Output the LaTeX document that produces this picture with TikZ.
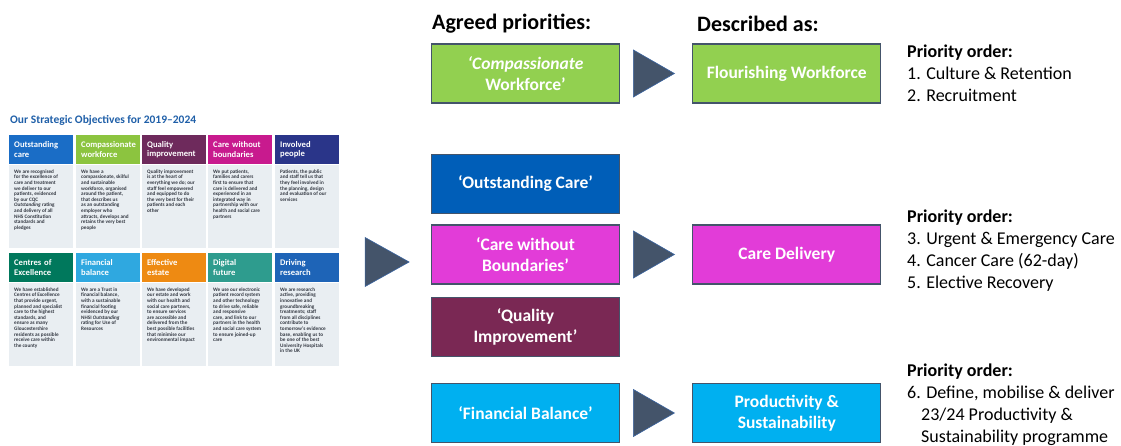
\documentclass[tikz,border=0pt]{standalone}
\usepackage{fontspec}
\setmainfont{Carlito}
\usetikzlibrary{positioning,shapes.geometric}

\definecolor{slate}{HTML}{44546A}
\definecolor{tipedge}{HTML}{3A64A0}
\definecolor{pgreen}{HTML}{92D050}
\definecolor{pblue}{HTML}{005EB8}
\definecolor{pmagenta}{HTML}{E23CD8}
\definecolor{pmaroon}{HTML}{7A2854}
\definecolor{pcyan}{HTML}{00B0F0}
% strategy sheet colours
\definecolor{objtitle}{HTML}{1F5FA8}
\definecolor{objpanel}{HTML}{E9EEF2}
\definecolor{objink}{HTML}{333842}
\definecolor{outcare}{HTML}{1A6DC6}
\definecolor{compwork}{HTML}{8CC43F}
\definecolor{qualimp}{HTML}{6E2A5C}
\definecolor{carebound}{HTML}{C81A8E}
\definecolor{involved}{HTML}{2A3589}
\definecolor{centres}{HTML}{00785C}
\definecolor{finbal}{HTML}{2FA8E0}
\definecolor{estate}{HTML}{EE8A12}
\definecolor{digital}{HTML}{2E9C8E}
\definecolor{research}{HTML}{1E64B7}

\def\fsz#1#2{\fontsize{#1}{#2}\selectfont}
% one objective: name, x, y, colour, header, body
\newcommand{\objective}[6]{%
  \node[objhead, fill=#4] (#1) at (#2,#3) {#5};
  \node[objbody, below=0pt of #1] (#1p) {};
  \node[objtext] (#1t) at ([shift={(5,5)}]#1p.north west) {#6};
}

\begin{document}
\begin{tikzpicture}[x=1pt, y=-1pt,
    box/.style={draw=slate, line width=1.2pt, minimum width=188pt, minimum height=59pt,
      inner sep=0pt, align=center, text=white, font=\bfseries\fsz{17.5}{21}},
    tip/.style={isosceles triangle, isosceles triangle stretches, shape border rotate=0,
      fill=slate, draw=tipedge, line width=0.6pt, minimum width=47pt, minimum height=41pt, inner sep=0pt},
    heading/.style={font=\bfseries\fsz{22}{26}, anchor=base west, inner sep=0pt},
    prio/.style={font=\fsz{18}{22}, align=left, anchor=north west, inner sep=0pt},
    objhead/.style={minimum width=64pt, minimum height=29pt, anchor=north west, inner sep=0pt,
      text width=54pt, align=left, text=white, font=\bfseries\fsz{8.6}{9.5}},
    objbody/.style={fill=objpanel, minimum width=64pt, minimum height=83pt, inner sep=0pt},
    objtext/.style={anchor=north west, inner sep=0pt, align=left, text=objink, font=\bfseries\fsz{5.2}{5.6}}]
  \useasboundingbox (0,0) rectangle (1121,446);

  % --- strategic objectives sheet
  \node[font=\bfseries\fsz{11.5}{13}, text=objtitle, anchor=base west, inner sep=0pt] (objt) at (10,124)
    {Our Strategic Objectives for 2019--2024};
  \objective{oa}{9}{135}{outcare}{Outstanding\\care}
    {We are recognised\\for the excellence of\\care and treatment\\we deliver to our\\patients, evidenced\\by our CQC\\\textit{Outstanding} rating\\and delivery of all\\NHS Constitution\\standards and\\pledges}
  \objective{ob}{76}{135}{compwork}{Compassionate\\workforce}
    {We have a\\compassionate, skilful\\and sustainable\\workforce, organised\\around the patient,\\that describes us\\as an outstanding\\employer who\\attracts, develops and\\retains the very best\\people}
  \objective{oc}{142}{135}{qualimp}{Quality\\improvement}
    {Quality improvement\\is at the heart of\\everything we do; our\\staff feel empowered\\and equipped to do\\the very best for their\\patients and each\\other}
  \objective{od}{208}{135}{carebound}{Care without\\boundaries}
    {We put patients,\\families and carers\\first to ensure that\\care is delivered and\\experienced in an\\integrated way in\\partnership with our\\health and social care\\partners}
  \objective{oe}{275}{135}{involved}{Involved\\people}
    {Patients, the public\\and staff tell us that\\they feel involved in\\the planning, design\\and evaluation of our\\services}
  \objective{of}{9}{253}{centres}{Centres of\\Excellence}
    {We have established\\Centres of Excellence\\that provide urgent,\\planned and specialist\\care to the highest\\standards, and\\ensure as many\\Gloucestershire\\residents as possible\\receive care within\\the county}
  \objective{og}{76}{253}{finbal}{Financial\\balance}
    {We are a Trust in\\financial balance,\\with a sustainable\\financial footing\\evidenced by our\\NHSI \textit{Outstanding}\\rating for Use of\\Resources}
  \objective{oh}{142}{253}{estate}{Effective\\estate}
    {We have developed\\our estate and work\\with our health and\\social care partners,\\to ensure services\\are accessible and\\delivered from the\\best possible facilities\\that minimise our\\environmental impact}
  \objective{oi}{208}{253}{digital}{Digital\\future}
    {We use our electronic\\patient record system\\and other technology\\to drive safe, reliable\\and responsive\\care, and link to our\\partners in the health\\and social care system\\to ensure joined-up\\care}
  \objective{oj}{275}{253}{research}{Driving\\research}
    {We are research\\active, providing\\innovative and\\groundbreaking\\treatments; staff\\from all disciplines\\contribute to\\tomorrow’s evidence\\base, enabling us to\\be one of the best\\University Hospitals\\in the UK}

  \node[tip, minimum width=49pt, minimum height=44pt] (a0) at (379.5,262) {};

  % --- priorities and how they are described
  \node[heading] (hagreed) at (432,30) {Agreed priorities:};
  \node[heading] (hdesc) at (697,32) {Described as:};

  \node[box, fill=pgreen] (cw) at (525.5,73.5) {\textit{‘Compassionate}\\Workforce’};
  \node[tip, right=13pt of cw] (a1) {};
  \node[box, fill=pgreen, right=17pt of a1] (fw) {Flourishing Workforce};

  \node[box, fill=pblue] (oca) at (525.5,184) {‘Outstanding Care’};
  \node[box, fill=pmagenta] (cwb) at (525.5,254.5) {‘Care without\\Boundaries’};
  \node[box, fill=pmaroon] (qim) at (525.5,327) {‘Quality\\Improvement’};
  \node[tip, right=13pt of cwb] (a2) {};
  \node[box, fill=pmagenta, right=17pt of a2] (cd) {Care Delivery};

  \node[box, fill=pcyan] (fba) at (525.5,413) {‘Financial Balance’};
  \node[tip, right=13pt of fba] (a3) {};
  \node[box, fill=pcyan, right=17pt of a3] (ps) {Productivity \&\\Sustainability};

  \node[prio] (p1) at (907,45) {\textbf{Priority order:}\\1. Culture \& Retention\\2. Recruitment};
  \node[prio] (p2) at (907,210) {\textbf{Priority order:}\\3. Urgent \& Emergency Care\\4. Cancer Care (62-day)\\5. Elective Recovery};
  \node[prio] (p3) at (907,364) {\textbf{Priority order:}\\6. Define, mobilise \& deliver\\\hspace*{14pt}23/24 Productivity \&\\\hspace*{14pt}Sustainability programme};
\end{tikzpicture}
\end{document}
